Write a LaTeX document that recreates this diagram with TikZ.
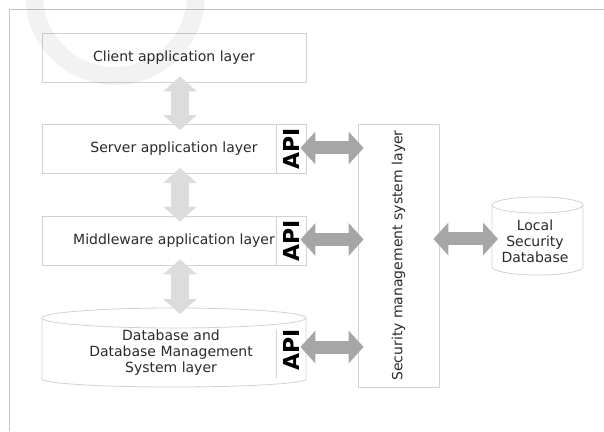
\documentclass[tikz,border=0pt]{standalone}
\usepackage{fontspec}
\setmainfont{DejaVu Sans}
\usepackage{xcolor}
\usepackage{tikz}
\usetikzlibrary{arrows.meta}
\definecolor{framegray}{HTML}{C4C4C4}
\definecolor{boxgray}{HTML}{D2D2D2}
\definecolor{textgray}{HTML}{2A2A2A}
\definecolor{lightarrow}{HTML}{DCDCDC}
\definecolor{darkarrow}{HTML}{A6A6A6}
\newcommand{\upright}[1]{\rotatebox{90}{#1}}

\begin{document}
\begin{tikzpicture}[x=1pt, y=1pt,
	boxline/.style={draw=boxgray, line width=0.8pt},
	layer/.style={boxline, fill=white, minimum width=264pt, minimum height=49pt, inner sep=0pt,
		text=textgray, font=\fontsize{14}{16}\selectfont},
	apibox/.style={boxline, minimum width=30pt, minimum height=49pt, inner sep=0pt,
		font=\fontsize{22}{22}\selectfont\bfseries},
	bigarrow/.style={line width=13pt, draw=darkarrow,
		{Triangle[length=15pt,width=32pt]}-{Triangle[length=15pt,width=32pt]},
		shorten <=-6pt, shorten >=-6pt},
	paleArrow/.style={line width=18pt, draw=lightarrow,
		{Triangle[length=15pt,width=33pt]}-{Triangle[length=15pt,width=33pt]},
		shorten <=-6pt, shorten >=-6pt}]
	\useasboundingbox (0,0) rectangle (604,431);
	% frame
	\draw[framegray, line width=1pt] (604,421) -- (9,421) -- (9,0);

	% application layers
	\node[layer] (client) at (174,373.5) {Client application layer};
	\node[layer] (server) at (174,282) {Server application layer};
	\node[layer] (middle) at (174,190.5) {Middleware application layer};
	\node[apibox] (srvapi) at (291,282) {\upright{API}};
	\node[apibox] (midapi) at (291,190.5) {\upright{API}};

	% database cylinder
	\draw[boxline, fill=white] (42,113) -- (42,52) arc[start angle=180, end angle=360, x radius=132, y radius=8] -- (306,113);
	\draw[boxline, fill=white] (174,113) ellipse[x radius=132, y radius=10];
	\coordinate (dbtop) at (174,123);
	\node[text=textgray, align=center, font=\fontsize{14}{16}\selectfont] (dbms) at (171,78)
		{Database and\\Database Management\\System layer};
	\draw[boxline] (276,101) -- (276,53);
	\node[apibox, draw=none, minimum height=48pt] (dbapi) at (291,81) {\upright{API}};

	% security layer
	\node[boxline, minimum width=81pt, minimum height=263pt, inner sep=0pt, text=textgray,
		font=\fontsize{14}{16}\selectfont] (sec) at (398.5,175.5) {\upright{Security management system layer}};

	% local database
	\draw[boxline, fill=white] (492,226) -- (492,164) arc[start angle=180, end angle=360, x radius=45.5, y radius=8] -- (583,226);
	\draw[boxline, fill=white] (537.5,226) ellipse[x radius=45.5, y radius=8];
	\node[text=textgray, align=center, font=\fontsize{14}{16}\selectfont] (localdb) at (535,190)
		{Local\\Security\\Database};
	\coordinate (localwest) at (492,192);

	% arrows
	\draw[paleArrow] ([xshift=6pt]client.south) -- ([xshift=6pt]server.north);
	\draw[paleArrow] ([xshift=6pt]server.south) -- ([xshift=6pt]middle.north);
	\draw[paleArrow] ([xshift=6pt]middle.south) -- ([xshift=6pt]dbtop);
	\draw[bigarrow] ([yshift=1pt]srvapi.east) -- ([yshift=1pt]sec.west |- srvapi.east);
	\draw[bigarrow] ([yshift=1pt]midapi.east) -- ([yshift=1pt]sec.west |- midapi.east);
	\draw[bigarrow] ([yshift=3pt]dbapi.east) -- ([yshift=3pt]sec.west |- dbapi.east);
	\draw[bigarrow] (sec.east |- localwest) -- (localwest);

	% watermark
	\draw[black, opacity=0.05, line width=18pt] (34,436) arc[start angle=180, end angle=360, radius=81];
\end{tikzpicture}
\end{document}
